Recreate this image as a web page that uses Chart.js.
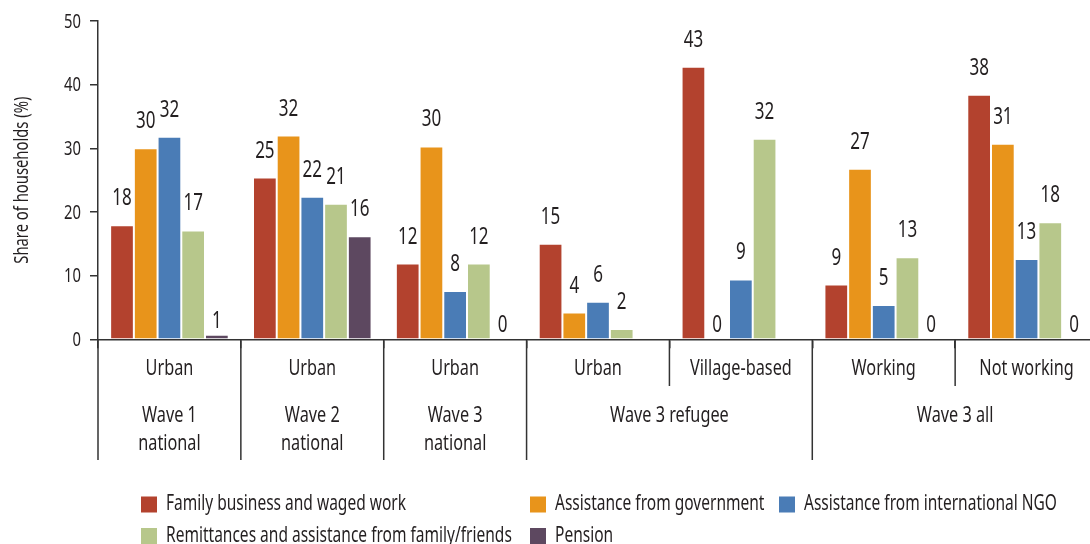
<!DOCTYPE html>
<html>
<head>
<meta charset="utf-8">
<script src="https://cdn.jsdelivr.net/npm/chart.js@4"></script>
<style>
  html, body { margin: 0; padding: 0; background: #fff; overflow: hidden; }
  #wrap { width: 1100px; height: 544px; }
</style>
</head>
<body>
<div id="wrap"><canvas id="chartCanvas"></canvas></div>
<script>
const FONT = '"Noto Sans", "Open Sans", sans-serif';
const INK = '#231f20';

const categories = ['Urban', 'Urban', 'Urban', 'Urban', 'Village-based', 'Working', 'Not working'];
const groupLabels = [['Wave 1', 'national'], ['Wave 2', 'national'], ['Wave 3', 'national'], ['Wave 3 refugee'], ['Wave 3 all']];
const groupSpans = [1, 1, 1, 2, 2];

const familyWork = [17.9, 25.4, 11.9, 15.0, 42.8, 8.6, 38.4];
const govAssist = [30.0, 32.0, 30.3, 4.2, 0, 26.8, 30.7];
const ngoAssist = [31.8, 22.4, 7.6, 5.9, 9.4, 5.4, 12.6];
const remittances = [17.1, 21.3, 11.9, 1.6, 31.5, 12.9, 18.4];
const pension = [0.7, 16.2, 0, null, null, 0, 0];

const yTicks = [0, 10, 20, 30, 40, 50];

const seriesNames = [
    'Family business and waged work',
    'Assistance from government',
    'Assistance from international NGO',
    'Remittances and assistance from family/friends',
    'Pension'
];
const seriesColors = ['#b3422e', '#e8941b', '#4a7cb6', '#b7c78b', '#5d4860'];
const seriesData = [familyWork, govAssist, ngoAssist, remittances, pension];

// legend layout: [column x, row]
const legendSlots = [[141, 0], [530, 0], [779, 0], [141, 1], [530, 1]];

// the original uses a condensed face, so squeeze the text horizontally
let squeeze = 0.8;
function calcSqueeze(ctx) {
    ctx.save();
    ctx.font = '21px ' + FONT;
    squeeze = 240 / ctx.measureText(seriesNames[0]).width;
    ctx.restore();
}

function text(ctx, s, x, y, size, align, base) {
    ctx.save();
    ctx.font = size + 'px ' + FONT;
    ctx.textAlign = align || 'center';
    ctx.textBaseline = base || 'middle';
    ctx.translate(x, y);
    ctx.scale(squeeze, 1);
    ctx.fillText(s, 0, 0);
    ctx.restore();
}

// draws data labels, tick labels, the category table under the axis and the legend
const decorPlugin = {
    id: 'decor',
    afterDatasetsDraw(chart) {
        const ctx = chart.ctx;
        const area = chart.chartArea;
        const x = chart.scales.x;
        const y = chart.scales.y;
        calcSqueeze(ctx);
        ctx.save();
        ctx.fillStyle = INK;

        // value labels
        chart.data.datasets.forEach((ds, di) => {
            const meta = chart.getDatasetMeta(di);
            meta.data.forEach((bar, i) => {
                const v = ds.data[i];
                if (v === null) return;
                const off = v < 1 ? 7 : 20;
                text(ctx, String(Math.round(v)), bar.x, bar.y - off, 23, 'center', 'alphabetic');
            });
        });

        // y tick labels
        yTicks.forEach(v => text(ctx, String(v), 81, y.getPixelForValue(v) + 1, 20, 'right', 'middle'));

        // table lines under the axis
        const cw = (area.right - area.left) / categories.length;
        ctx.strokeStyle = '#333';
        ctx.lineWidth = 1.5;
        ctx.beginPath();
        ctx.moveTo(area.left, area.bottom);
        ctx.lineTo(area.left, 460);
        let idx = 0;
        const fullBreaks = [];
        groupSpans.forEach(s => { idx += s; fullBreaks.push(idx); });
        for (let i = 1; i < categories.length; i++) {
            const px = area.left + i * cw;
            ctx.moveTo(px, area.bottom);
            ctx.lineTo(px, fullBreaks.includes(i) ? 460 : 386);
        }
        ctx.stroke();

        categories.forEach((c, i) => text(ctx, c, x.getPixelForValue(i), 369, 22));
        let start = 0;
        groupLabels.forEach((lines, g) => {
            const cx = area.left + (start + groupSpans[g] / 2) * cw;
            lines.forEach((ln, k) => text(ctx, ln, cx, 416 + k * 28, 22));
            start += groupSpans[g];
        });

        // y title
        ctx.save();
        ctx.translate(22, (area.top + area.bottom) / 2);
        ctx.rotate(-Math.PI / 2);
        text(ctx, 'Share of households (%)', 0, 0, 20);
        ctx.restore();

        // legend
        seriesNames.forEach((name, i) => {
            const [lx, row] = legendSlots[i];
            const cy = 504.5 + row * 31.5;
            ctx.fillStyle = seriesColors[i];
            ctx.fillRect(lx, cy - 8, 16, 16);
            ctx.fillStyle = INK;
            text(ctx, name, lx + 25, cy, 21, 'left', 'middle');
        });
        ctx.restore();
    }
};

new Chart(document.getElementById('chartCanvas').getContext('2d'), {
    type: 'bar',
    plugins: [decorPlugin],
    data: {
        labels: categories,
        datasets: seriesData.map((d, i) => ({
            label: seriesNames[i],
            data: d,
            backgroundColor: seriesColors[i],
            borderColor: 'rgba(255,255,255,0.55)',
            borderWidth: 1,
            categoryPercentage: 0.83,
            barPercentage: 1
        }))
    },
    options: {
        responsive: true,
        maintainAspectRatio: false,
        animation: false,
        layout: { padding: { left: 0, right: 2, top: 21, bottom: 0 } },
        plugins: { legend: { display: false }, tooltip: { enabled: false } },
        scales: {
            x: {
                ticks: { display: false },
                grid: { drawOnChartArea: false, offset: true, color: '#333', lineWidth: 1.5, tickLength: 9 },
                border: { color: '#333', width: 1.5 },
                afterFit(scale) { scale.height = 204.7; }
            },
            y: {
                min: 0,
                max: 50,
                afterBuildTicks(scale) { scale.ticks = yTicks.map(v => ({ value: v })); },
                ticks: { display: false },
                grid: { drawOnChartArea: false, color: '#333', lineWidth: 1.5, tickLength: 8 },
                border: { color: '#333', width: 1.5 },
                afterFit(scale) { scale.width = 98; }
            }
        }
    }
});
</script>
</body>
</html>
